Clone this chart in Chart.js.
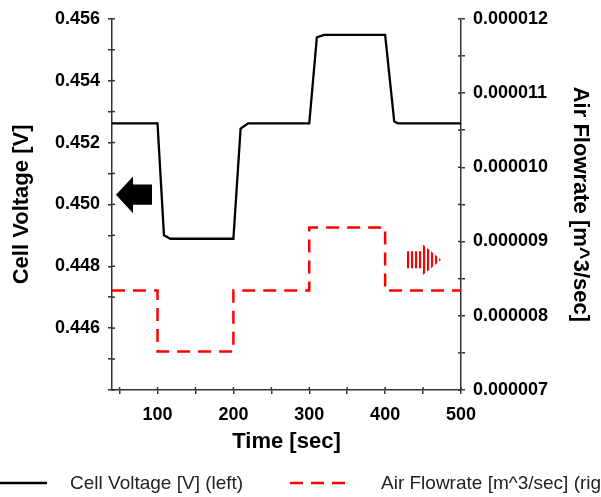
<!DOCTYPE html>
<html>
<head>
<meta charset="utf-8">
<script src="https://cdn.jsdelivr.net/npm/chart.js@4.4.1/dist/chart.umd.min.js"></script>
<style>
html,body{margin:0;padding:0;background:#fff;}
#wrap{width:601px;height:497px;}
</style>
</head>
<body>
<div id="wrap"><canvas id="c" width="601" height="497"></canvas></div>
<script>
// ---- data ----
const timeVoltage = [40, 100, 108.5, 117, 200, 209.5, 219.5, 300, 310, 319.5, 400, 412, 417, 500];
const cellVoltage = [0.45262, 0.45262, 0.4490, 0.44889, 0.44889, 0.45245, 0.45262, 0.45262, 0.45540, 0.45548, 0.45548, 0.45268, 0.45262, 0.45262];
const timeFlow = [40, 100, 100, 200, 200, 300, 300, 400, 400, 500];
const airFlow = [8.34e-6, 8.34e-6, 7.52e-6, 7.52e-6, 8.34e-6, 8.34e-6, 9.19e-6, 9.19e-6, 8.34e-6, 8.34e-6];

const xTickValues = [50, 100, 150, 200, 250, 300, 350, 400, 450, 500];
const xTickLabels = ['', '100', '', '200', '', '300', '', '400', '', '500'];
const leftTickValues = [0.444, 0.445, 0.446, 0.447, 0.448, 0.449, 0.450, 0.451, 0.452, 0.453, 0.454, 0.455, 0.456];
const leftTickLabels = ['', '', '0.446', '', '0.448', '', '0.450', '', '0.452', '', '0.454', '', '0.456'];
const rightTickValues = [7e-6, 7.5e-6, 8e-6, 8.5e-6, 9e-6, 9.5e-6, 10e-6, 10.5e-6, 11e-6, 11.5e-6, 12e-6];
const rightTickLabels = ['0.000007', '', '0.000008', '', '0.000009', '', '0.000010', '', '0.000011', '', '0.000012'];

const seriesLabels = ['Cell Voltage [V] (left)', 'Air Flowrate [m^3/sec] (right)'];
const axisTitles = { x: 'Time [sec]', left: 'Cell Voltage [V]', right: 'Air Flowrate [m^3/sec]' };

// ---- styling ----
Chart.defaults.font.family = "'Liberation Sans', Arial, Helvetica, sans-serif";
const AX = '#333333';

function toPts(xs, ys) { return xs.map((x, i) => ({ x: x, y: ys[i] })); }

// inward half of crossing tick marks
const innerTicks = {
  id: 'innerTicks',
  afterDraw(chart) {
    const ctx = chart.ctx, a = chart.chartArea;
    ctx.save();
    ctx.strokeStyle = AX; ctx.lineWidth = 1.5;
    const L = 3;
    const sx = chart.scales.x, sl = chart.scales.yL, sr = chart.scales.yR;
    sx.ticks.forEach(t => { const p = sx.getPixelForValue(t.value); ctx.beginPath(); ctx.moveTo(p, a.bottom); ctx.lineTo(p, a.bottom - L); ctx.stroke(); });
    sl.ticks.forEach(t => { const p = sl.getPixelForValue(t.value); ctx.beginPath(); ctx.moveTo(a.left, p); ctx.lineTo(a.left + L, p); ctx.stroke(); });
    sr.ticks.forEach(t => { const p = sr.getPixelForValue(t.value); ctx.beginPath(); ctx.moveTo(a.right, p); ctx.lineTo(a.right - L, p); ctx.stroke(); });
    ctx.restore();
  }
};

// direction arrows (annotations placed in data units)
const arrows = {
  id: 'arrows',
  afterDatasetsDraw(chart) {
    const ctx = chart.ctx;
    const sx = chart.scales.x, sl = chart.scales.yL, sr = chart.scales.yR;
    const X = v => sx.getPixelForValue(v), YL = v => sl.getPixelForValue(v), YR = v => sr.getPixelForValue(v);
    // black arrow pointing left (towards left axis)
    ctx.save();
    ctx.fillStyle = '#000';
    ctx.beginPath();
    ctx.moveTo(X(45.3), YL(0.45031));
    ctx.lineTo(X(67.7), YL(0.45090));
    ctx.lineTo(X(67.7), YL(0.45064));
    ctx.lineTo(X(92.7), YL(0.45064));
    ctx.lineTo(X(92.7), YL(0.44999));
    ctx.lineTo(X(67.7), YL(0.44999));
    ctx.lineTo(X(67.7), YL(0.44971));
    ctx.closePath();
    ctx.fill();
    ctx.restore();

    // red striped arrow pointing right (towards right axis)
    const cy = 8.755e-6;
    const x0 = X(428.8), x1 = X(448.6), x2 = X(473.7);
    ctx.save();
    ctx.beginPath();
    ctx.moveTo(x0, YR(cy + 0.115e-6));
    ctx.lineTo(x1, YR(cy + 0.115e-6));
    ctx.lineTo(x1, YR(cy + 0.215e-6));
    ctx.lineTo(x2, YR(cy));
    ctx.lineTo(x1, YR(cy - 0.215e-6));
    ctx.lineTo(x1, YR(cy - 0.115e-6));
    ctx.lineTo(x0, YR(cy - 0.115e-6));
    ctx.closePath();
    ctx.clip();
    ctx.fillStyle = '#ff0000';
    const top = YR(cy + 0.25e-6), bot = YR(cy - 0.25e-6);
    for (let x = x0; x < x2; x += 4) {
      ctx.fillRect(x, top, 2.2, bot - top);
    }
    ctx.restore();
  }
};

// legend drawn at the bottom, left aligned, clipped by canvas edge
const bottomLegend = {
  id: 'bottomLegend',
  afterDraw(chart) {
    const ctx = chart.ctx;
    const ds = chart.data.datasets;
    const y = 483;
    const items = [{ x0: 0, x1: 47, tx: 70 }, { x0: 290, x1: 349, tx: 381 }];
    ctx.save();
    ds.forEach((d, i) => {
      const it = items[i];
      ctx.strokeStyle = d.borderColor;
      ctx.lineWidth = d.borderWidth;
      ctx.setLineDash(d.borderDash || []);
      ctx.beginPath(); ctx.moveTo(it.x0, y); ctx.lineTo(it.x1, y); ctx.stroke();
      ctx.setLineDash([]);
      ctx.fillStyle = '#222';
      ctx.font = "19px 'Liberation Sans', Arial, sans-serif";
      ctx.textBaseline = 'middle';
      ctx.textAlign = 'left';
      ctx.fillText(d.label, it.tx, y + 1);
    });
    ctx.restore();
  }
};

const tickFont = { size: 18, weight: 'bold' };
const titleFont = { size: 22, weight: 'bold' };

new Chart(document.getElementById('c'), {
  type: 'line',
  data: {
    datasets: [
      { label: seriesLabels[0], data: toPts(timeVoltage, cellVoltage), yAxisID: 'yL',
        borderColor: '#000000', borderWidth: 2.3, pointRadius: 0, tension: 0, fill: false },
      { label: seriesLabels[1], data: toPts(timeFlow, airFlow), yAxisID: 'yR',
        borderColor: '#ff0000', borderWidth: 2.5, borderDash: [13, 8], pointRadius: 0, tension: 0, fill: false }
    ]
  },
  options: {
    responsive: false,
    animation: false,
    devicePixelRatio: 1,
    layout: { padding: { left: 0, right: 0, top: 16, bottom: 40 } },
    plugins: { legend: { display: false }, tooltip: { enabled: false } },
    scales: {
      x: {
        type: 'linear', position: 'bottom', min: 40, max: 500,
        afterBuildTicks(s) { s.ticks = xTickValues.map(v => ({ value: v })); },
        afterFit(s) { s.height = 67; },
        grid: { drawOnChartArea: false, tickLength: 4, color: AX, lineWidth: 1.5 },
        border: { color: AX, width: 1.5 },
        ticks: { autoSkip: false, maxRotation: 0, padding: 10, color: '#000', font: tickFont,
          callback: (v, i) => xTickLabels[i] },
        title: { display: true, text: axisTitles.x, color: '#000', font: titleFont, padding: { top: 0, bottom: 2 } }
      },
      yL: {
        type: 'linear', position: 'left', min: 0.444, max: 0.456,
        afterBuildTicks(s) { s.ticks = leftTickValues.map(v => ({ value: v })); },
        afterFit(s) { s.width = 112; },
        grid: { drawOnChartArea: false, tickLength: 4, color: AX, lineWidth: 1.5 },
        border: { color: AX, width: 1.5 },
        ticks: { autoSkip: false, padding: 8, color: '#000', font: tickFont,
          callback: (v, i) => leftTickLabels[i] },
        title: { display: true, text: axisTitles.left, color: '#000', font: titleFont, padding: { top: 9, bottom: 0 } }
      },
      yR: {
        type: 'linear', position: 'right', min: 7e-6, max: 12e-6,
        afterBuildTicks(s) { s.ticks = rightTickValues.map(v => ({ value: v })); },
        afterFit(s) { s.width = 140; },
        grid: { drawOnChartArea: false, tickLength: 4, color: AX, lineWidth: 1.5 },
        border: { color: AX, width: 1.5 },
        ticks: { autoSkip: false, padding: 8, color: '#000', font: tickFont,
          callback: (v, i) => rightTickLabels[i] },
        title: { display: true, text: axisTitles.right, color: '#000', font: titleFont, padding: { top: 8, bottom: 0 } }
      }
    }
  },
  plugins: [arrows, innerTicks, bottomLegend]
});
</script>
</body>
</html>
